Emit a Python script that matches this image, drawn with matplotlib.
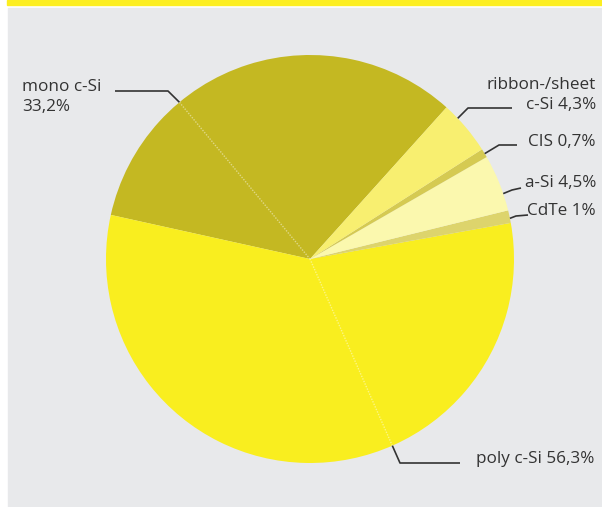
import numpy as np
import matplotlib.pyplot as plt
from matplotlib.patches import Rectangle

# data: shares of PV technologies, in drawing order (counter-clockwise)
labels = ['mono c-Si', 'poly c-Si', 'CdTe', 'a-Si', 'CIS', 'ribbon-/sheet c-Si']
shares = [33.2, 56.3, 1.0, 4.5, 0.7, 4.3]
colors = ['#c4b822', '#f9ee1f', '#ddd46c', '#fbf8ae', '#d5ca52', '#f8ef70']
label_texts = ['mono c-Si\n33,2%', 'poly c-Si 56,3%', 'CdTe 1%',
               'a-Si 4,5%', 'CIS 0,7%', 'ribbon-/sheet\nc-Si 4,3%']

W, H = 602, 507
CX, CY, R = 310, H - 259, 204

plt.rcParams['font.family'] = ['Open Sans', 'DejaVu Sans']

fig = plt.figure(figsize=(W / 100, H / 100), dpi=100)
ax = fig.add_axes([0, 0, 1, 1])

# background panel and top band
ax.add_patch(Rectangle((8, 0), W - 8, H - 8, color='#e8e9eb', zorder=0))
ax.add_patch(Rectangle((7, H - 5), W - 7, 5, color='#fcee21', zorder=0))

ax.pie(shares, colors=colors, startangle=48, counterclock=True,
       center=(CX, CY), radius=R, frame=True,
       wedgeprops=dict(linewidth=0))
ax.set_xlim(0, W)
ax.set_ylim(0, H)
ax.set_aspect('equal')
ax.axis('off')


def edge(angle):
    a = np.deg2rad(angle)
    return CX + R * np.cos(a), CY + R * np.sin(a)


# leader lines: anchor angle on the rim, then bend points (image px)
leaders = [
    (129.8, [(168, 91), (115, 91)], (22, 97), 'left'),
    (-66.2, [(400, 463), (460, 463)], (476, 459), 'left'),
    (11.5, [(516, 216), (528, 215)], (596, 211), 'right'),
    (18.7, [(512, 190), (521, 188)], (596, 183), 'right'),
    (31.1, [(499, 145), (517, 145)], (596, 142), 'right'),
    (43.6, [(468, 108), (512, 108)], (596, 95), 'right'),
]

for (ang, pts, tpos, ha), txt in zip(leaders, label_texts):
    x0, y0 = edge(ang)
    xs = [x0] + [p[0] for p in pts]
    ys = [y0] + [H - p[1] for p in pts]
    ax.plot(xs, ys, color='#333333', lw=1.2, solid_capstyle='butt', zorder=5)
    ax.text(tpos[0], H - tpos[1], txt, ha=ha, va='center', fontsize=12.3,
            color='#333333', linespacing=1.4, zorder=6)

# faint dotted continuation of the two big leaders inside the pie
for ang in (129.8, -66.2):
    x0, y0 = edge(ang)
    ax.plot([x0, CX], [y0, CY], color='white', lw=1, ls=(0, (1, 1)),
            alpha=0.45, zorder=4)

fig.savefig('out.png', dpi=100)
